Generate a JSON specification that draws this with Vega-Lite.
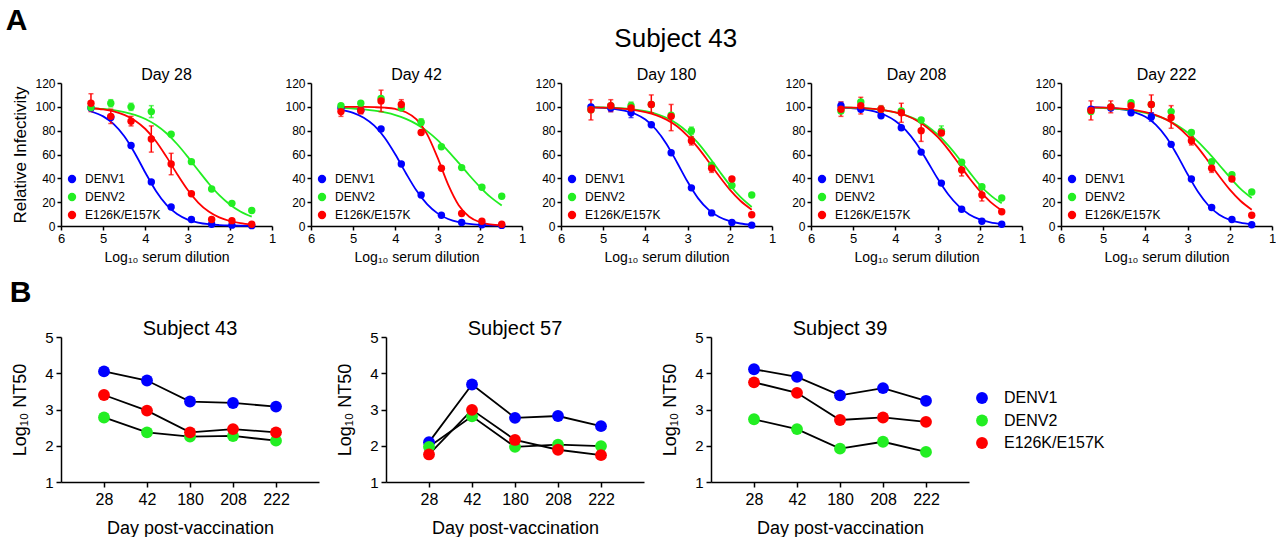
{
"$schema": "https://vega.github.io/schema/vega-lite/v6.json",
"background": "white",
"padding": {"left": 5, "top": 6, "right": 0, "bottom": 0},
"title": {"text": "A", "anchor": "start", "frame": "bounds", "fontSize": 30, "fontWeight": "bold", "offset": -10, "dx": -4},
"config": {
  "font": "Liberation Sans",
  "view": {"stroke": null},
  "title": {"fontWeight": "normal", "color": "black", "fontSize": 16, "offset": -6},
  "axis": {"grid": false, "domainColor": "black", "tickColor": "black", "domainWidth": 1.5, "tickWidth": 1.5, "labelColor": "black", "titleColor": "black", "titleFontWeight": "normal", "labelFlush": false, "labelOverlap": false},
  "legend": {"labelColor": "black"}
},
"datasets": {
"pts": [
{"d":28,"s":"DENV1","x":5.29,"y":99},{"d":28,"s":"DENV1","x":4.82,"y":91},{"d":28,"s":"DENV1","x":4.34,"y":67.5},{"d":28,"s":"DENV1","x":3.86,"y":37},{"d":28,"s":"DENV1","x":3.39,"y":16},{"d":28,"s":"DENV1","x":2.91,"y":5.5},{"d":28,"s":"DENV1","x":2.43,"y":1.5},{"d":28,"s":"DENV1","x":1.95,"y":0.7},{"d":28,"s":"DENV1","x":1.48,"y":0.3},
{"d":28,"s":"DENV2","x":5.29,"y":99.5},{"d":28,"s":"DENV2","x":4.82,"y":103,"lo":100,"hi":106},{"d":28,"s":"DENV2","x":4.34,"y":100,"lo":97,"hi":103},{"d":28,"s":"DENV2","x":3.86,"y":96,"lo":91,"hi":101},{"d":28,"s":"DENV2","x":3.39,"y":77},{"d":28,"s":"DENV2","x":2.91,"y":54},{"d":28,"s":"DENV2","x":2.43,"y":31},{"d":28,"s":"DENV2","x":1.95,"y":19},{"d":28,"s":"DENV2","x":1.48,"y":13},
{"d":28,"s":"E126K/E157K","x":5.29,"y":103,"lo":96,"hi":111},{"d":28,"s":"E126K/E157K","x":4.82,"y":92,"lo":86,"hi":98},{"d":28,"s":"E126K/E157K","x":4.34,"y":88,"lo":84,"hi":92},{"d":28,"s":"E126K/E157K","x":3.86,"y":73,"lo":62,"hi":84},{"d":28,"s":"E126K/E157K","x":3.39,"y":52,"lo":43,"hi":61},{"d":28,"s":"E126K/E157K","x":2.91,"y":27},{"d":28,"s":"E126K/E157K","x":2.43,"y":5.5},{"d":28,"s":"E126K/E157K","x":1.95,"y":4.5},{"d":28,"s":"E126K/E157K","x":1.48,"y":1.5},
{"d":42,"s":"DENV1","x":5.29,"y":99},{"d":42,"s":"DENV1","x":4.82,"y":97},{"d":42,"s":"DENV1","x":4.34,"y":81.5},{"d":42,"s":"DENV1","x":3.86,"y":52},{"d":42,"s":"DENV1","x":3.39,"y":26},{"d":42,"s":"DENV1","x":2.91,"y":9},{"d":42,"s":"DENV1","x":2.43,"y":3},{"d":42,"s":"DENV1","x":1.95,"y":1},{"d":42,"s":"DENV1","x":1.48,"y":0.5},
{"d":42,"s":"DENV2","x":5.29,"y":101},{"d":42,"s":"DENV2","x":4.82,"y":103},{"d":42,"s":"DENV2","x":4.34,"y":107},{"d":42,"s":"DENV2","x":3.86,"y":99},{"d":42,"s":"DENV2","x":3.39,"y":87,"lo":84.5,"hi":90},{"d":42,"s":"DENV2","x":2.91,"y":66.5},{"d":42,"s":"DENV2","x":2.43,"y":49},{"d":42,"s":"DENV2","x":1.95,"y":32.5},{"d":42,"s":"DENV2","x":1.48,"y":25},
{"d":42,"s":"E126K/E157K","x":5.29,"y":96,"lo":92,"hi":100},{"d":42,"s":"E126K/E157K","x":4.82,"y":97,"lo":94,"hi":100},{"d":42,"s":"E126K/E157K","x":4.34,"y":105,"lo":96,"hi":114},{"d":42,"s":"E126K/E157K","x":3.86,"y":102,"lo":98,"hi":106},{"d":42,"s":"E126K/E157K","x":3.39,"y":78.5},{"d":42,"s":"E126K/E157K","x":2.91,"y":48.5},{"d":42,"s":"E126K/E157K","x":2.43,"y":10.5},{"d":42,"s":"E126K/E157K","x":1.95,"y":4},{"d":42,"s":"E126K/E157K","x":1.48,"y":1.5},
{"d":180,"s":"DENV1","x":5.29,"y":100},{"d":180,"s":"DENV1","x":4.82,"y":99,"lo":96,"hi":102},{"d":180,"s":"DENV1","x":4.34,"y":95,"lo":91,"hi":99},{"d":180,"s":"DENV1","x":3.86,"y":85},{"d":180,"s":"DENV1","x":3.39,"y":61.5},{"d":180,"s":"DENV1","x":2.91,"y":32},{"d":180,"s":"DENV1","x":2.43,"y":11},{"d":180,"s":"DENV1","x":1.95,"y":3},{"d":180,"s":"DENV1","x":1.48,"y":0.7},
{"d":180,"s":"DENV2","x":5.29,"y":97.5},{"d":180,"s":"DENV2","x":4.82,"y":101},{"d":180,"s":"DENV2","x":4.34,"y":101,"lo":97,"hi":104},{"d":180,"s":"DENV2","x":3.86,"y":102},{"d":180,"s":"DENV2","x":3.39,"y":93},{"d":180,"s":"DENV2","x":2.91,"y":80,"lo":77,"hi":83},{"d":180,"s":"DENV2","x":2.43,"y":51},{"d":180,"s":"DENV2","x":1.95,"y":34},{"d":180,"s":"DENV2","x":1.48,"y":26},
{"d":180,"s":"E126K/E157K","x":5.29,"y":97.5,"lo":89,"hi":106},{"d":180,"s":"E126K/E157K","x":4.82,"y":101,"lo":96,"hi":106},{"d":180,"s":"E126K/E157K","x":4.34,"y":99,"lo":96,"hi":103},{"d":180,"s":"E126K/E157K","x":3.86,"y":102,"lo":95,"hi":110},{"d":180,"s":"E126K/E157K","x":3.39,"y":92,"lo":80,"hi":102},{"d":180,"s":"E126K/E157K","x":2.91,"y":71.5,"lo":68,"hi":75},{"d":180,"s":"E126K/E157K","x":2.43,"y":48.5,"lo":45,"hi":52},{"d":180,"s":"E126K/E157K","x":1.95,"y":39.5},{"d":180,"s":"E126K/E157K","x":1.48,"y":9.5},
{"d":208,"s":"DENV1","x":5.29,"y":101,"lo":98,"hi":104},{"d":208,"s":"DENV1","x":4.82,"y":98},{"d":208,"s":"DENV1","x":4.34,"y":92.5},{"d":208,"s":"DENV1","x":3.86,"y":82.5},{"d":208,"s":"DENV1","x":3.39,"y":62},{"d":208,"s":"DENV1","x":2.91,"y":36},{"d":208,"s":"DENV1","x":2.43,"y":14},{"d":208,"s":"DENV1","x":1.95,"y":4},{"d":208,"s":"DENV1","x":1.48,"y":1.5},
{"d":208,"s":"DENV2","x":5.29,"y":96.5},{"d":208,"s":"DENV2","x":4.82,"y":104},{"d":208,"s":"DENV2","x":4.34,"y":98},{"d":208,"s":"DENV2","x":3.86,"y":96.5},{"d":208,"s":"DENV2","x":3.39,"y":89},{"d":208,"s":"DENV2","x":2.91,"y":79.5,"lo":76,"hi":84},{"d":208,"s":"DENV2","x":2.43,"y":53.5},{"d":208,"s":"DENV2","x":1.95,"y":33},{"d":208,"s":"DENV2","x":1.48,"y":23.5},
{"d":208,"s":"E126K/E157K","x":5.29,"y":98,"lo":92,"hi":104},{"d":208,"s":"E126K/E157K","x":4.82,"y":101,"lo":94,"hi":108},{"d":208,"s":"E126K/E157K","x":4.34,"y":98,"lo":96,"hi":101},{"d":208,"s":"E126K/E157K","x":3.86,"y":95,"lo":87,"hi":103},{"d":208,"s":"E126K/E157K","x":3.39,"y":80,"lo":71,"hi":89},{"d":208,"s":"E126K/E157K","x":2.91,"y":78},{"d":208,"s":"E126K/E157K","x":2.43,"y":47,"lo":42,"hi":52},{"d":208,"s":"E126K/E157K","x":1.95,"y":26,"lo":21,"hi":31},{"d":208,"s":"E126K/E157K","x":1.48,"y":12},
{"d":222,"s":"DENV1","x":5.29,"y":98},{"d":222,"s":"DENV1","x":4.82,"y":99},{"d":222,"s":"DENV1","x":4.34,"y":95},{"d":222,"s":"DENV1","x":3.86,"y":91.5,"lo":88,"hi":95},{"d":222,"s":"DENV1","x":3.39,"y":68.5},{"d":222,"s":"DENV1","x":2.91,"y":39.5},{"d":222,"s":"DENV1","x":2.43,"y":15.5},{"d":222,"s":"DENV1","x":1.95,"y":5.5},{"d":222,"s":"DENV1","x":1.48,"y":1},
{"d":222,"s":"DENV2","x":5.29,"y":96},{"d":222,"s":"DENV2","x":4.82,"y":100},{"d":222,"s":"DENV2","x":4.34,"y":103.5},{"d":222,"s":"DENV2","x":3.86,"y":102},{"d":222,"s":"DENV2","x":3.39,"y":96},{"d":222,"s":"DENV2","x":2.91,"y":78.5},{"d":222,"s":"DENV2","x":2.43,"y":54},{"d":222,"s":"DENV2","x":1.95,"y":43},{"d":222,"s":"DENV2","x":1.48,"y":28.5},
{"d":222,"s":"E126K/E157K","x":5.29,"y":97,"lo":89,"hi":105},{"d":222,"s":"E126K/E157K","x":4.82,"y":100,"lo":95,"hi":105},{"d":222,"s":"E126K/E157K","x":4.34,"y":101},{"d":222,"s":"E126K/E157K","x":3.86,"y":102,"lo":95,"hi":110},{"d":222,"s":"E126K/E157K","x":3.39,"y":91,"lo":82,"hi":101},{"d":222,"s":"E126K/E157K","x":2.91,"y":71.5,"lo":68,"hi":75},{"d":222,"s":"E126K/E157K","x":2.43,"y":48.5,"lo":45,"hi":52},{"d":222,"s":"E126K/E157K","x":1.95,"y":39.5},{"d":222,"s":"E126K/E157K","x":1.48,"y":9}
],
"cv": [
{"d":28,"s":"DENV1","x":5.29,"y":96.1},{"d":28,"s":"DENV1","x":5.0,"y":92.0},{"d":28,"s":"DENV1","x":4.75,"y":85.5},{"d":28,"s":"DENV1","x":4.5,"y":75.3},{"d":28,"s":"DENV1","x":4.25,"y":61.1},{"d":28,"s":"DENV1","x":4.0,"y":44.7},{"d":28,"s":"DENV1","x":3.75,"y":29.4},{"d":28,"s":"DENV1","x":3.5,"y":17.7},{"d":28,"s":"DENV1","x":3.25,"y":10.0},{"d":28,"s":"DENV1","x":3.0,"y":5.4},{"d":28,"s":"DENV1","x":2.75,"y":2.9},{"d":28,"s":"DENV1","x":2.5,"y":1.5},{"d":28,"s":"DENV1","x":2.25,"y":0.8},{"d":28,"s":"DENV1","x":2.0,"y":0.4},{"d":28,"s":"DENV1","x":1.75,"y":0.2},{"d":28,"s":"DENV1","x":1.48,"y":0.1},
{"d":28,"s":"DENV2","x":5.29,"y":98.9},{"d":28,"s":"DENV2","x":5.0,"y":98.2},{"d":28,"s":"DENV2","x":4.75,"y":97.2},{"d":28,"s":"DENV2","x":4.5,"y":95.6},{"d":28,"s":"DENV2","x":4.25,"y":93.3},{"d":28,"s":"DENV2","x":4.0,"y":89.8},{"d":28,"s":"DENV2","x":3.75,"y":84.7},{"d":28,"s":"DENV2","x":3.5,"y":77.8},{"d":28,"s":"DENV2","x":3.25,"y":68.8},{"d":28,"s":"DENV2","x":3.0,"y":58.2},{"d":28,"s":"DENV2","x":2.75,"y":46.8},{"d":28,"s":"DENV2","x":2.5,"y":35.7},{"d":28,"s":"DENV2","x":2.25,"y":25.9},{"d":28,"s":"DENV2","x":2.0,"y":18.1},{"d":28,"s":"DENV2","x":1.75,"y":12.2},{"d":28,"s":"DENV2","x":1.48,"y":7.8},
{"d":28,"s":"E126K/E157K","x":5.29,"y":98.8},{"d":28,"s":"E126K/E157K","x":5.0,"y":97.8},{"d":28,"s":"E126K/E157K","x":4.75,"y":96.1},{"d":28,"s":"E126K/E157K","x":4.5,"y":93.2},{"d":28,"s":"E126K/E157K","x":4.25,"y":88.6},{"d":28,"s":"E126K/E157K","x":4.0,"y":81.4},{"d":28,"s":"E126K/E157K","x":3.75,"y":71.1},{"d":28,"s":"E126K/E157K","x":3.5,"y":58.0},{"d":28,"s":"E126K/E157K","x":3.25,"y":43.7},{"d":28,"s":"E126K/E157K","x":3.0,"y":30.4},{"d":28,"s":"E126K/E157K","x":2.75,"y":19.7},{"d":28,"s":"E126K/E157K","x":2.5,"y":12.1},{"d":28,"s":"E126K/E157K","x":2.25,"y":7.2},{"d":28,"s":"E126K/E157K","x":2.0,"y":4.2},{"d":28,"s":"E126K/E157K","x":1.75,"y":2.4},{"d":28,"s":"E126K/E157K","x":1.48,"y":1.3},
{"d":42,"s":"DENV1","x":5.29,"y":97.5},{"d":42,"s":"DENV1","x":5.0,"y":95.0},{"d":42,"s":"DENV1","x":4.75,"y":90.9},{"d":42,"s":"DENV1","x":4.5,"y":84.2},{"d":42,"s":"DENV1","x":4.25,"y":73.9},{"d":42,"s":"DENV1","x":4.0,"y":60.0},{"d":42,"s":"DENV1","x":3.75,"y":44.3},{"d":42,"s":"DENV1","x":3.5,"y":29.7},{"d":42,"s":"DENV1","x":3.25,"y":18.3},{"d":42,"s":"DENV1","x":3.0,"y":10.6},{"d":42,"s":"DENV1","x":2.75,"y":5.9},{"d":42,"s":"DENV1","x":2.5,"y":3.2},{"d":42,"s":"DENV1","x":2.25,"y":1.7},{"d":42,"s":"DENV1","x":2.0,"y":0.9},{"d":42,"s":"DENV1","x":1.75,"y":0.5},{"d":42,"s":"DENV1","x":1.48,"y":0.3},
{"d":42,"s":"DENV2","x":5.29,"y":99.1},{"d":42,"s":"DENV2","x":5.0,"y":98.6},{"d":42,"s":"DENV2","x":4.75,"y":97.9},{"d":42,"s":"DENV2","x":4.5,"y":96.9},{"d":42,"s":"DENV2","x":4.25,"y":95.3},{"d":42,"s":"DENV2","x":4.0,"y":93.1},{"d":42,"s":"DENV2","x":3.75,"y":89.9},{"d":42,"s":"DENV2","x":3.5,"y":85.5},{"d":42,"s":"DENV2","x":3.25,"y":79.6},{"d":42,"s":"DENV2","x":3.0,"y":72.0},{"d":42,"s":"DENV2","x":2.75,"y":62.9},{"d":42,"s":"DENV2","x":2.5,"y":52.9},{"d":42,"s":"DENV2","x":2.25,"y":42.6},{"d":42,"s":"DENV2","x":2.0,"y":32.9},{"d":42,"s":"DENV2","x":1.75,"y":24.4},{"d":42,"s":"DENV2","x":1.48,"y":17.2},
{"d":42,"s":"E126K/E157K","x":5.29,"y":100},{"d":42,"s":"E126K/E157K","x":5.0,"y":99.9},{"d":42,"s":"E126K/E157K","x":4.75,"y":99.9},{"d":42,"s":"E126K/E157K","x":4.5,"y":99.7},{"d":42,"s":"E126K/E157K","x":4.25,"y":99.3},{"d":42,"s":"E126K/E157K","x":4.0,"y":98.2},{"d":42,"s":"E126K/E157K","x":3.75,"y":95.5},{"d":42,"s":"E126K/E157K","x":3.5,"y":89.5},{"d":42,"s":"E126K/E157K","x":3.25,"y":77.1},{"d":42,"s":"E126K/E157K","x":3.0,"y":57.3},{"d":42,"s":"E126K/E157K","x":2.75,"y":34.8},{"d":42,"s":"E126K/E157K","x":2.5,"y":17.5},{"d":42,"s":"E126K/E157K","x":2.25,"y":7.8},{"d":42,"s":"E126K/E157K","x":2.0,"y":3.3},{"d":42,"s":"E126K/E157K","x":1.75,"y":1.3},{"d":42,"s":"E126K/E157K","x":1.48,"y":0.5},
{"d":180,"s":"DENV1","x":5.29,"y":99.6},{"d":180,"s":"DENV1","x":5.0,"y":99.2},{"d":180,"s":"DENV1","x":4.75,"y":98.4},{"d":180,"s":"DENV1","x":4.5,"y":96.9},{"d":180,"s":"DENV1","x":4.25,"y":94.2},{"d":180,"s":"DENV1","x":4.0,"y":89.3},{"d":180,"s":"DENV1","x":3.75,"y":81.0},{"d":180,"s":"DENV1","x":3.5,"y":68.9},{"d":180,"s":"DENV1","x":3.25,"y":53.3},{"d":180,"s":"DENV1","x":3.0,"y":37.1},{"d":180,"s":"DENV1","x":2.75,"y":23.2},{"d":180,"s":"DENV1","x":2.5,"y":13.5},{"d":180,"s":"DENV1","x":2.25,"y":7.5},{"d":180,"s":"DENV1","x":2.0,"y":4.0},{"d":180,"s":"DENV1","x":1.75,"y":2.1},{"d":180,"s":"DENV1","x":1.48,"y":1.0},
{"d":180,"s":"DENV2","x":5.29,"y":99.7},{"d":180,"s":"DENV2","x":5.0,"y":99.5},{"d":180,"s":"DENV2","x":4.75,"y":99.1},{"d":180,"s":"DENV2","x":4.5,"y":98.6},{"d":180,"s":"DENV2","x":4.25,"y":97.7},{"d":180,"s":"DENV2","x":4.0,"y":96.3},{"d":180,"s":"DENV2","x":3.75,"y":94.2},{"d":180,"s":"DENV2","x":3.5,"y":90.8},{"d":180,"s":"DENV2","x":3.25,"y":85.8},{"d":180,"s":"DENV2","x":3.0,"y":78.8},{"d":180,"s":"DENV2","x":2.75,"y":69.5},{"d":180,"s":"DENV2","x":2.5,"y":58.3},{"d":180,"s":"DENV2","x":2.25,"y":46.1},{"d":180,"s":"DENV2","x":2.0,"y":34.4},{"d":180,"s":"DENV2","x":1.75,"y":24.4},{"d":180,"s":"DENV2","x":1.48,"y":16.0},
{"d":180,"s":"E126K/E157K","x":5.29,"y":99.6},{"d":180,"s":"E126K/E157K","x":5.0,"y":99.4},{"d":180,"s":"E126K/E157K","x":4.75,"y":99.0},{"d":180,"s":"E126K/E157K","x":4.5,"y":98.3},{"d":180,"s":"E126K/E157K","x":4.25,"y":97.3},{"d":180,"s":"E126K/E157K","x":4.0,"y":95.6},{"d":180,"s":"E126K/E157K","x":3.75,"y":93.1},{"d":180,"s":"E126K/E157K","x":3.5,"y":89.3},{"d":180,"s":"E126K/E157K","x":3.25,"y":83.7},{"d":180,"s":"E126K/E157K","x":3.0,"y":75.6},{"d":180,"s":"E126K/E157K","x":2.75,"y":65.6},{"d":180,"s":"E126K/E157K","x":2.5,"y":53.9},{"d":180,"s":"E126K/E157K","x":2.25,"y":41.7},{"d":180,"s":"E126K/E157K","x":2.0,"y":30.5},{"d":180,"s":"E126K/E157K","x":1.75,"y":21.2},{"d":180,"s":"E126K/E157K","x":1.48,"y":13.7},
{"d":208,"s":"DENV1","x":5.29,"y":99.4},{"d":208,"s":"DENV1","x":5.0,"y":98.8},{"d":208,"s":"DENV1","x":4.75,"y":97.9},{"d":208,"s":"DENV1","x":4.5,"y":96.2},{"d":208,"s":"DENV1","x":4.25,"y":93.1},{"d":208,"s":"DENV1","x":4.0,"y":88.1},{"d":208,"s":"DENV1","x":3.75,"y":80.3},{"d":208,"s":"DENV1","x":3.5,"y":69.1},{"d":208,"s":"DENV1","x":3.25,"y":54.8},{"d":208,"s":"DENV1","x":3.0,"y":39.8},{"d":208,"s":"DENV1","x":2.75,"y":26.6},{"d":208,"s":"DENV1","x":2.5,"y":16.6},{"d":208,"s":"DENV1","x":2.25,"y":9.7},{"d":208,"s":"DENV1","x":2.0,"y":5.6},{"d":208,"s":"DENV1","x":1.75,"y":3.1},{"d":208,"s":"DENV1","x":1.48,"y":1.7},
{"d":208,"s":"DENV2","x":5.29,"y":99.6},{"d":208,"s":"DENV2","x":5.0,"y":99.2},{"d":208,"s":"DENV2","x":4.75,"y":98.8},{"d":208,"s":"DENV2","x":4.5,"y":98.1},{"d":208,"s":"DENV2","x":4.25,"y":97.1},{"d":208,"s":"DENV2","x":4.0,"y":95.4},{"d":208,"s":"DENV2","x":3.75,"y":92.9},{"d":208,"s":"DENV2","x":3.5,"y":89.3},{"d":208,"s":"DENV2","x":3.25,"y":84.0},{"d":208,"s":"DENV2","x":3.0,"y":76.8},{"d":208,"s":"DENV2","x":2.75,"y":67.6},{"d":208,"s":"DENV2","x":2.5,"y":56.9},{"d":208,"s":"DENV2","x":2.25,"y":45.4},{"d":208,"s":"DENV2","x":2.0,"y":34.4},{"d":208,"s":"DENV2","x":1.75,"y":25.9},{"d":208,"s":"DENV2","x":1.48,"y":19.0},
{"d":208,"s":"E126K/E157K","x":5.29,"y":99.6},{"d":208,"s":"E126K/E157K","x":5.0,"y":99.3},{"d":208,"s":"E126K/E157K","x":4.75,"y":98.9},{"d":208,"s":"E126K/E157K","x":4.5,"y":98.2},{"d":208,"s":"E126K/E157K","x":4.25,"y":97.1},{"d":208,"s":"E126K/E157K","x":4.0,"y":95.4},{"d":208,"s":"E126K/E157K","x":3.75,"y":92.7},{"d":208,"s":"E126K/E157K","x":3.5,"y":88.6},{"d":208,"s":"E126K/E157K","x":3.25,"y":82.7},{"d":208,"s":"E126K/E157K","x":3.0,"y":74.7},{"d":208,"s":"E126K/E157K","x":2.75,"y":64.3},{"d":208,"s":"E126K/E157K","x":2.5,"y":52.4},{"d":208,"s":"E126K/E157K","x":2.25,"y":40.3},{"d":208,"s":"E126K/E157K","x":2.0,"y":29.4},{"d":208,"s":"E126K/E157K","x":1.75,"y":20.3},{"d":208,"s":"E126K/E157K","x":1.48,"y":13.1},
{"d":222,"s":"DENV1","x":5.29,"y":99.7},{"d":222,"s":"DENV1","x":5.0,"y":99.4},{"d":222,"s":"DENV1","x":4.75,"y":98.8},{"d":222,"s":"DENV1","x":4.5,"y":97.6},{"d":222,"s":"DENV1","x":4.25,"y":95.4},{"d":222,"s":"DENV1","x":4.0,"y":91.6},{"d":222,"s":"DENV1","x":3.75,"y":84.9},{"d":222,"s":"DENV1","x":3.5,"y":74.3},{"d":222,"s":"DENV1","x":3.25,"y":59.7},{"d":222,"s":"DENV1","x":3.0,"y":43.4},{"d":222,"s":"DENV1","x":2.75,"y":28.5},{"d":222,"s":"DENV1","x":2.5,"y":17.0},{"d":222,"s":"DENV1","x":2.25,"y":9.5},{"d":222,"s":"DENV1","x":2.0,"y":5.2},{"d":222,"s":"DENV1","x":1.75,"y":2.8},{"d":222,"s":"DENV1","x":1.48,"y":1.4},
{"d":222,"s":"DENV2","x":5.29,"y":99.4},{"d":222,"s":"DENV2","x":5.0,"y":99.0},{"d":222,"s":"DENV2","x":4.75,"y":98.5},{"d":222,"s":"DENV2","x":4.5,"y":97.8},{"d":222,"s":"DENV2","x":4.25,"y":96.7},{"d":222,"s":"DENV2","x":4.0,"y":95.0},{"d":222,"s":"DENV2","x":3.75,"y":92.6},{"d":222,"s":"DENV2","x":3.5,"y":89.3},{"d":222,"s":"DENV2","x":3.25,"y":84.6},{"d":222,"s":"DENV2","x":3.0,"y":78.4},{"d":222,"s":"DENV2","x":2.75,"y":70.6},{"d":222,"s":"DENV2","x":2.5,"y":61.3},{"d":222,"s":"DENV2","x":2.25,"y":51.2},{"d":222,"s":"DENV2","x":2.0,"y":40.9},{"d":222,"s":"DENV2","x":1.75,"y":31.4},{"d":222,"s":"DENV2","x":1.48,"y":23.5},
{"d":222,"s":"E126K/E157K","x":5.29,"y":99.6},{"d":222,"s":"E126K/E157K","x":5.0,"y":99.4},{"d":222,"s":"E126K/E157K","x":4.75,"y":99.0},{"d":222,"s":"E126K/E157K","x":4.5,"y":98.3},{"d":222,"s":"E126K/E157K","x":4.25,"y":97.3},{"d":222,"s":"E126K/E157K","x":4.0,"y":95.6},{"d":222,"s":"E126K/E157K","x":3.75,"y":93.1},{"d":222,"s":"E126K/E157K","x":3.5,"y":89.3},{"d":222,"s":"E126K/E157K","x":3.25,"y":83.7},{"d":222,"s":"E126K/E157K","x":3.0,"y":75.6},{"d":222,"s":"E126K/E157K","x":2.75,"y":65.6},{"d":222,"s":"E126K/E157K","x":2.5,"y":53.9},{"d":222,"s":"E126K/E157K","x":2.25,"y":41.7},{"d":222,"s":"E126K/E157K","x":2.0,"y":30.5},{"d":222,"s":"E126K/E157K","x":1.75,"y":21.2},{"d":222,"s":"E126K/E157K","x":1.48,"y":13.7}
],
"nt": [
{"subj":43,"s":"DENV1","day":28,"v":4.05},{"subj":43,"s":"DENV1","day":42,"v":3.80},{"subj":43,"s":"DENV1","day":180,"v":3.22},{"subj":43,"s":"DENV1","day":208,"v":3.18},{"subj":43,"s":"DENV1","day":222,"v":3.08},
{"subj":43,"s":"DENV2","day":28,"v":2.78},{"subj":43,"s":"DENV2","day":42,"v":2.37},{"subj":43,"s":"DENV2","day":180,"v":2.25},{"subj":43,"s":"DENV2","day":208,"v":2.27},{"subj":43,"s":"DENV2","day":222,"v":2.14},
{"subj":43,"s":"E126K/E157K","day":28,"v":3.40},{"subj":43,"s":"E126K/E157K","day":42,"v":2.97},{"subj":43,"s":"E126K/E157K","day":180,"v":2.37},{"subj":43,"s":"E126K/E157K","day":208,"v":2.46},{"subj":43,"s":"E126K/E157K","day":222,"v":2.37},
{"subj":57,"s":"DENV1","day":28,"v":2.10},{"subj":57,"s":"DENV1","day":42,"v":3.69},{"subj":57,"s":"DENV1","day":180,"v":2.77},{"subj":57,"s":"DENV1","day":208,"v":2.82},{"subj":57,"s":"DENV1","day":222,"v":2.54},
{"subj":57,"s":"DENV2","day":28,"v":1.97},{"subj":57,"s":"DENV2","day":42,"v":2.81},{"subj":57,"s":"DENV2","day":180,"v":1.97},{"subj":57,"s":"DENV2","day":208,"v":2.03},{"subj":57,"s":"DENV2","day":222,"v":1.99},
{"subj":57,"s":"E126K/E157K","day":28,"v":1.76},{"subj":57,"s":"E126K/E157K","day":42,"v":2.99},{"subj":57,"s":"E126K/E157K","day":180,"v":2.16},{"subj":57,"s":"E126K/E157K","day":208,"v":1.89},{"subj":57,"s":"E126K/E157K","day":222,"v":1.74},
{"subj":39,"s":"DENV1","day":28,"v":4.11},{"subj":39,"s":"DENV1","day":42,"v":3.90},{"subj":39,"s":"DENV1","day":180,"v":3.39},{"subj":39,"s":"DENV1","day":208,"v":3.59},{"subj":39,"s":"DENV1","day":222,"v":3.24},
{"subj":39,"s":"DENV2","day":28,"v":2.73},{"subj":39,"s":"DENV2","day":42,"v":2.46},{"subj":39,"s":"DENV2","day":180,"v":1.92},{"subj":39,"s":"DENV2","day":208,"v":2.11},{"subj":39,"s":"DENV2","day":222,"v":1.83},
{"subj":39,"s":"E126K/E157K","day":28,"v":3.75},{"subj":39,"s":"E126K/E157K","day":42,"v":3.46},{"subj":39,"s":"E126K/E157K","day":180,"v":2.71},{"subj":39,"s":"E126K/E157K","day":208,"v":2.78},{"subj":39,"s":"E126K/E157K","day":222,"v":2.66}
]
},
"resolve": {"scale": {"fill": "independent"}},
"spacing": 14,
"vconcat": [
{
 "title": {"text": "Subject 43", "fontSize": 26, "anchor": "middle", "offset": 15, "dx": 32},
 "bounds": "flush",
 "spacing": 39,
 "resolve": {"scale": {"fill": "independent"}},
 "hconcat": [
  {"width": 211, "height": 143, "title": {"text": "Day 28"},
   "layer": [
    {"data": {"name": "cv"}, "transform": [{"filter": "datum.d == 28"}], "mark": {"type": "line", "interpolate": "monotone", "strokeWidth": 1.8},
     "encoding": {"x": {"field": "x", "type": "quantitative", "scale": {"domain": [1, 6], "reverse": true, "nice": false, "zero": false}, "axis": {"values": [6,5,4,3,2,1], "format": "d", "title": "Log₁₀ serum dilution", "labelFontSize": 13, "titleFontSize": 14, "tickSize": 4, "labelPadding": 2, "titlePadding": 5}},
      "y": {"field": "y", "type": "quantitative", "scale": {"domain": [0, 120], "nice": false}, "axis": {"values": [0,20,40,60,80,100,120], "title": "Relative Infectivity", "labelFontSize": 12, "titleFontSize": 17, "tickSize": 4, "labelPadding": 2, "titlePadding": 5}},
      "color": {"field": "s", "type": "nominal", "scale": {"domain": ["DENV1","DENV2","E126K/E157K"], "range": ["#0000ff","#22ee22","#ff0000"]}, "legend": null}}},
    {"data": {"name": "pts"}, "transform": [{"filter": "datum.d == 28 && isValid(datum.lo)"}], "mark": {"type": "errorbar", "ticks": true, "thickness": 1.5},
     "encoding": {"x": {"field": "x", "type": "quantitative"}, "y": {"field": "lo", "type": "quantitative", "axis": {"values": [0,20,40,60,80,100,120], "title": "Relative Infectivity", "labelFontSize": 12, "titleFontSize": 17, "tickSize": 4, "labelPadding": 2, "titlePadding": 5}}, "y2": {"field": "hi"},
      "color": {"field": "s", "type": "nominal", "legend": null}}},
    {"data": {"name": "pts"}, "transform": [{"filter": "datum.d == 28"}], "mark": {"type": "circle", "size": 55, "opacity": 1},
     "encoding": {"x": {"field": "x", "type": "quantitative"}, "y": {"field": "y", "type": "quantitative", "axis": {"values": [0,20,40,60,80,100,120], "title": "Relative Infectivity", "labelFontSize": 12, "titleFontSize": 17, "tickSize": 4, "labelPadding": 2, "titlePadding": 5}},
      "fill": {"field": "s", "type": "nominal", "scale": {"domain": ["DENV1","DENV2","E126K/E157K"], "range": ["#0000ff","#22ee22","#ff0000"]}, "legend": {"title": null, "orient": "bottom-left", "offset": 5, "padding": 0, "symbolType": "circle", "symbolSize": 70, "labelFontSize": 12, "rowPadding": 6, "labelOffset": 7}}}}
   ]},
  {"width": 211, "height": 143, "title": {"text": "Day 42"},
   "layer": [
    {"data": {"name": "cv"}, "transform": [{"filter": "datum.d == 42"}], "mark": {"type": "line", "interpolate": "monotone", "strokeWidth": 1.8},
     "encoding": {"x": {"field": "x", "type": "quantitative", "scale": {"domain": [1, 6], "reverse": true, "nice": false, "zero": false}, "axis": {"values": [6,5,4,3,2,1], "format": "d", "title": "Log₁₀ serum dilution", "labelFontSize": 13, "titleFontSize": 14, "tickSize": 4, "labelPadding": 2, "titlePadding": 5}},
      "y": {"field": "y", "type": "quantitative", "scale": {"domain": [0, 120], "nice": false}, "axis": {"values": [0,20,40,60,80,100,120], "title": null, "labelFontSize": 12, "tickSize": 4, "labelPadding": 2}},
      "color": {"field": "s", "type": "nominal", "scale": {"domain": ["DENV1","DENV2","E126K/E157K"], "range": ["#0000ff","#22ee22","#ff0000"]}, "legend": null}}},
    {"data": {"name": "pts"}, "transform": [{"filter": "datum.d == 42 && isValid(datum.lo)"}], "mark": {"type": "errorbar", "ticks": true, "thickness": 1.5},
     "encoding": {"x": {"field": "x", "type": "quantitative"}, "y": {"field": "lo", "type": "quantitative", "axis": {"values": [0,20,40,60,80,100,120], "title": null, "labelFontSize": 12, "tickSize": 4, "labelPadding": 2}}, "y2": {"field": "hi"},
      "color": {"field": "s", "type": "nominal", "legend": null}}},
    {"data": {"name": "pts"}, "transform": [{"filter": "datum.d == 42"}], "mark": {"type": "circle", "size": 55, "opacity": 1},
     "encoding": {"x": {"field": "x", "type": "quantitative"}, "y": {"field": "y", "type": "quantitative", "axis": {"values": [0,20,40,60,80,100,120], "title": null, "labelFontSize": 12, "tickSize": 4, "labelPadding": 2}},
      "fill": {"field": "s", "type": "nominal", "scale": {"domain": ["DENV1","DENV2","E126K/E157K"], "range": ["#0000ff","#22ee22","#ff0000"]}, "legend": {"title": null, "orient": "bottom-left", "offset": 5, "padding": 0, "symbolType": "circle", "symbolSize": 70, "labelFontSize": 12, "rowPadding": 6, "labelOffset": 7}}}}
   ]},
  {"width": 211, "height": 143, "title": {"text": "Day 180"},
   "layer": [
    {"data": {"name": "cv"}, "transform": [{"filter": "datum.d == 180"}], "mark": {"type": "line", "interpolate": "monotone", "strokeWidth": 1.8},
     "encoding": {"x": {"field": "x", "type": "quantitative", "scale": {"domain": [1, 6], "reverse": true, "nice": false, "zero": false}, "axis": {"values": [6,5,4,3,2,1], "format": "d", "title": "Log₁₀ serum dilution", "labelFontSize": 13, "titleFontSize": 14, "tickSize": 4, "labelPadding": 2, "titlePadding": 5}},
      "y": {"field": "y", "type": "quantitative", "scale": {"domain": [0, 120], "nice": false}, "axis": {"values": [0,20,40,60,80,100,120], "title": null, "labelFontSize": 12, "tickSize": 4, "labelPadding": 2}},
      "color": {"field": "s", "type": "nominal", "scale": {"domain": ["DENV1","DENV2","E126K/E157K"], "range": ["#0000ff","#22ee22","#ff0000"]}, "legend": null}}},
    {"data": {"name": "pts"}, "transform": [{"filter": "datum.d == 180 && isValid(datum.lo)"}], "mark": {"type": "errorbar", "ticks": true, "thickness": 1.5},
     "encoding": {"x": {"field": "x", "type": "quantitative"}, "y": {"field": "lo", "type": "quantitative", "axis": {"values": [0,20,40,60,80,100,120], "title": null, "labelFontSize": 12, "tickSize": 4, "labelPadding": 2}}, "y2": {"field": "hi"},
      "color": {"field": "s", "type": "nominal", "legend": null}}},
    {"data": {"name": "pts"}, "transform": [{"filter": "datum.d == 180"}], "mark": {"type": "circle", "size": 55, "opacity": 1},
     "encoding": {"x": {"field": "x", "type": "quantitative"}, "y": {"field": "y", "type": "quantitative", "axis": {"values": [0,20,40,60,80,100,120], "title": null, "labelFontSize": 12, "tickSize": 4, "labelPadding": 2}},
      "fill": {"field": "s", "type": "nominal", "scale": {"domain": ["DENV1","DENV2","E126K/E157K"], "range": ["#0000ff","#22ee22","#ff0000"]}, "legend": {"title": null, "orient": "bottom-left", "offset": 5, "padding": 0, "symbolType": "circle", "symbolSize": 70, "labelFontSize": 12, "rowPadding": 6, "labelOffset": 7}}}}
   ]},
  {"width": 211, "height": 143, "title": {"text": "Day 208"},
   "layer": [
    {"data": {"name": "cv"}, "transform": [{"filter": "datum.d == 208"}], "mark": {"type": "line", "interpolate": "monotone", "strokeWidth": 1.8},
     "encoding": {"x": {"field": "x", "type": "quantitative", "scale": {"domain": [1, 6], "reverse": true, "nice": false, "zero": false}, "axis": {"values": [6,5,4,3,2,1], "format": "d", "title": "Log₁₀ serum dilution", "labelFontSize": 13, "titleFontSize": 14, "tickSize": 4, "labelPadding": 2, "titlePadding": 5}},
      "y": {"field": "y", "type": "quantitative", "scale": {"domain": [0, 120], "nice": false}, "axis": {"values": [0,20,40,60,80,100,120], "title": null, "labelFontSize": 12, "tickSize": 4, "labelPadding": 2}},
      "color": {"field": "s", "type": "nominal", "scale": {"domain": ["DENV1","DENV2","E126K/E157K"], "range": ["#0000ff","#22ee22","#ff0000"]}, "legend": null}}},
    {"data": {"name": "pts"}, "transform": [{"filter": "datum.d == 208 && isValid(datum.lo)"}], "mark": {"type": "errorbar", "ticks": true, "thickness": 1.5},
     "encoding": {"x": {"field": "x", "type": "quantitative"}, "y": {"field": "lo", "type": "quantitative", "axis": {"values": [0,20,40,60,80,100,120], "title": null, "labelFontSize": 12, "tickSize": 4, "labelPadding": 2}}, "y2": {"field": "hi"},
      "color": {"field": "s", "type": "nominal", "legend": null}}},
    {"data": {"name": "pts"}, "transform": [{"filter": "datum.d == 208"}], "mark": {"type": "circle", "size": 55, "opacity": 1},
     "encoding": {"x": {"field": "x", "type": "quantitative"}, "y": {"field": "y", "type": "quantitative", "axis": {"values": [0,20,40,60,80,100,120], "title": null, "labelFontSize": 12, "tickSize": 4, "labelPadding": 2}},
      "fill": {"field": "s", "type": "nominal", "scale": {"domain": ["DENV1","DENV2","E126K/E157K"], "range": ["#0000ff","#22ee22","#ff0000"]}, "legend": {"title": null, "orient": "bottom-left", "offset": 5, "padding": 0, "symbolType": "circle", "symbolSize": 70, "labelFontSize": 12, "rowPadding": 6, "labelOffset": 7}}}}
   ]},
  {"width": 211, "height": 143, "title": {"text": "Day 222"},
   "layer": [
    {"data": {"name": "cv"}, "transform": [{"filter": "datum.d == 222"}], "mark": {"type": "line", "interpolate": "monotone", "strokeWidth": 1.8},
     "encoding": {"x": {"field": "x", "type": "quantitative", "scale": {"domain": [1, 6], "reverse": true, "nice": false, "zero": false}, "axis": {"values": [6,5,4,3,2,1], "format": "d", "title": "Log₁₀ serum dilution", "labelFontSize": 13, "titleFontSize": 14, "tickSize": 4, "labelPadding": 2, "titlePadding": 5}},
      "y": {"field": "y", "type": "quantitative", "scale": {"domain": [0, 120], "nice": false}, "axis": {"values": [0,20,40,60,80,100,120], "title": null, "labelFontSize": 12, "tickSize": 4, "labelPadding": 2}},
      "color": {"field": "s", "type": "nominal", "scale": {"domain": ["DENV1","DENV2","E126K/E157K"], "range": ["#0000ff","#22ee22","#ff0000"]}, "legend": null}}},
    {"data": {"name": "pts"}, "transform": [{"filter": "datum.d == 222 && isValid(datum.lo)"}], "mark": {"type": "errorbar", "ticks": true, "thickness": 1.5},
     "encoding": {"x": {"field": "x", "type": "quantitative"}, "y": {"field": "lo", "type": "quantitative", "axis": {"values": [0,20,40,60,80,100,120], "title": null, "labelFontSize": 12, "tickSize": 4, "labelPadding": 2}}, "y2": {"field": "hi"},
      "color": {"field": "s", "type": "nominal", "legend": null}}},
    {"data": {"name": "pts"}, "transform": [{"filter": "datum.d == 222"}], "mark": {"type": "circle", "size": 55, "opacity": 1},
     "encoding": {"x": {"field": "x", "type": "quantitative"}, "y": {"field": "y", "type": "quantitative", "axis": {"values": [0,20,40,60,80,100,120], "title": null, "labelFontSize": 12, "tickSize": 4, "labelPadding": 2}},
      "fill": {"field": "s", "type": "nominal", "scale": {"domain": ["DENV1","DENV2","E126K/E157K"], "range": ["#0000ff","#22ee22","#ff0000"]}, "legend": {"title": null, "orient": "bottom-left", "offset": 5, "padding": 0, "symbolType": "circle", "symbolSize": 70, "labelFontSize": 12, "rowPadding": 6, "labelOffset": 7}}}}
   ]}
 ]
},
{
 "title": {"text": "B", "anchor": "start", "frame": "bounds", "fontSize": 30, "fontWeight": "bold", "dx": -2, "offset": 11},
 "bounds": "flush",
 "spacing": 67,
 "resolve": {"scale": {"fill": "independent"}},
 "hconcat": [
  {"width": 258, "height": 145, "title": {"text": "Subject 43", "fontSize": 20, "offset": -9},
   "data": {"name": "nt"}, "transform": [{"filter": "datum.subj == 43"}],
   "encoding": {
    "x": {"field": "day", "type": "ordinal", "sort": [28,42,180,208,222], "scale": {"type": "point", "padding": 1}, "axis": {"title": "Day post-vaccination", "labelAngle": 0, "labelFontSize": 16, "titleFontSize": 18, "tickSize": 5, "labelPadding": 4, "titlePadding": 12}},
    "y": {"field": "v", "type": "quantitative", "scale": {"domain": [1, 5], "nice": false, "zero": false}, "axis": {"values": [1,2,3,4,5], "title": "Log₁₀ NT50", "labelFontSize": 15, "titleFontSize": 18, "tickSize": 5, "labelPadding": 3, "titlePadding": 15}}},
   "layer": [
    {"mark": {"type": "line", "color": "black", "strokeWidth": 1.8}, "encoding": {"detail": {"field": "s"}}},
    {"mark": {"type": "circle", "size": 140, "opacity": 1}, "encoding": {"fill": {"field": "s", "type": "nominal", "scale": {"domain": ["DENV1","DENV2","E126K/E157K"], "range": ["#0000ff","#22ee22","#ff0000"]}, "legend": null}}}
   ]},
  {"width": 258, "height": 145, "title": {"text": "Subject 57", "fontSize": 20, "offset": -9},
   "data": {"name": "nt"}, "transform": [{"filter": "datum.subj == 57"}],
   "encoding": {
    "x": {"field": "day", "type": "ordinal", "sort": [28,42,180,208,222], "scale": {"type": "point", "padding": 1}, "axis": {"title": "Day post-vaccination", "labelAngle": 0, "labelFontSize": 16, "titleFontSize": 18, "tickSize": 5, "labelPadding": 4, "titlePadding": 12}},
    "y": {"field": "v", "type": "quantitative", "scale": {"domain": [1, 5], "nice": false, "zero": false}, "axis": {"values": [1,2,3,4,5], "title": "Log₁₀ NT50", "labelFontSize": 15, "titleFontSize": 18, "tickSize": 5, "labelPadding": 3, "titlePadding": 15}}},
   "layer": [
    {"mark": {"type": "line", "color": "black", "strokeWidth": 1.8}, "encoding": {"detail": {"field": "s"}}},
    {"mark": {"type": "circle", "size": 140, "opacity": 1}, "encoding": {"fill": {"field": "s", "type": "nominal", "scale": {"domain": ["DENV1","DENV2","E126K/E157K"], "range": ["#0000ff","#22ee22","#ff0000"]}, "legend": null}}}
   ]},
  {"width": 258, "height": 145, "title": {"text": "Subject 39", "fontSize": 20, "offset": -9},
   "data": {"name": "nt"}, "transform": [{"filter": "datum.subj == 39"}],
   "encoding": {
    "x": {"field": "day", "type": "ordinal", "sort": [28,42,180,208,222], "scale": {"type": "point", "padding": 1}, "axis": {"title": "Day post-vaccination", "labelAngle": 0, "labelFontSize": 16, "titleFontSize": 18, "tickSize": 5, "labelPadding": 4, "titlePadding": 12}},
    "y": {"field": "v", "type": "quantitative", "scale": {"domain": [1, 5], "nice": false, "zero": false}, "axis": {"values": [1,2,3,4,5], "title": "Log₁₀ NT50", "labelFontSize": 15, "titleFontSize": 18, "tickSize": 5, "labelPadding": 3, "titlePadding": 15}}},
   "layer": [
    {"mark": {"type": "line", "color": "black", "strokeWidth": 1.8}, "encoding": {"detail": {"field": "s"}}},
    {"mark": {"type": "circle", "size": 140, "opacity": 1}, "encoding": {"fill": {"field": "s", "type": "nominal", "scale": {"domain": ["DENV1","DENV2","E126K/E157K"], "range": ["#0000ff","#22ee22","#ff0000"]}, "legend": {"title": null, "orient": "none", "legendX": 263, "legendY": 53, "padding": 0, "symbolType": "circle", "symbolSize": 140, "labelFontSize": 16, "rowPadding": 6.5, "labelOffset": 14}}}}
   ]}
 ]
}
]
}
